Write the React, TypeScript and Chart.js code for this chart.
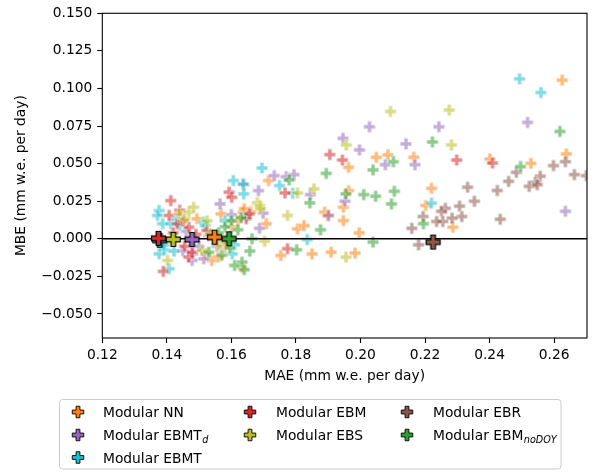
import React, { useEffect, useRef } from 'react';
import { Chart, registerables } from 'chart.js';

Chart.register(...registerables);

// ---------- data ----------
const seriesMain = ['Modular NN', 'Modular EBMT', 'Modular EBMT', 'Modular EBM', 'Modular EBS', 'Modular EBR', 'Modular EBM'];
const seriesSub = ['', 'd', '', '', '', '', 'noDOY'];
const seriesColors = ['#ff7f0e', '#9467bd', '#17becf', '#d62728', '#bcbd22', '#8c564b', '#2ca02c'];

const xTicks = [0.12, 0.14, 0.16, 0.18, 0.2, 0.22, 0.24, 0.26];
const yTicks = [-0.05, -0.025, 0, 0.025, 0.05, 0.075, 0.1, 0.125, 0.15];

const nnX = [0.2625, 0.2638, 0.2528, 0.2401, 0.2165, 0.2085, 0.2049, 0.1963, 0.1963, 0.1947, 0.1947, 0.1996, 0.222, 0.2202, 0.2286, 0.1909, 0.1983, 0.185, 0.1753, 0.1715, 0.1805, 0.1825, 0.1889, 0.1899, 0.1708, 0.1568, 0.1636, 0.1493, 0.1539, 0.1633, 0.16, 0.162, 0.158, 0.152, 0.166, 0.156, 0.164];
const nnY = [0.1055, 0.0564, 0.0502, 0.0531, 0.0542, 0.0558, 0.0542, 0.0475, 0.032, 0.021, 0.0121, 0.004, 0.0336, 0.0221, 0.0077, -0.0089, -0.0095, -0.01, -0.0111, 0.0387, 0.0066, 0.0088, 0.0177, 0.0155, 0.01, 0.0166, 0.0177, 0.0133, -0.0144, -0.0192, 0.008, 0.012, -0.006, -0.01, 0.018, -0.012, 0.02];

const tdX = [0.2635, 0.2518, 0.2243, 0.2028, 0.1946, 0.1997, 0.2141, 0.2077, 0.2169, 0.1952, 0.1901, 0.1845, 0.1733, 0.177, 0.1794, 0.1639, 0.1684, 0.1698, 0.1687, 0.1565, 0.16, 0.1514, 0.1478, 0.146, 0.15, 0.153, 0.145, 0.1555, 0.148];
const tdY = [0.0183, 0.0774, 0.0745, 0.0745, 0.0668, 0.0591, 0.0631, 0.0493, 0.0493, 0.025, 0.0155, 0.0294, 0.042, 0.0413, 0.0427, 0.036, 0.032, 0.017, 0.007, 0.0232, 0.016, -0.0133, -0.0144, 0.005, -0.005, 0.002, -0.008, -0.005, -0.01];

const tX = [0.2493, 0.2559, 0.222, 0.1835, 0.1695, 0.1749, 0.179, 0.1606, 0.1636, 0.1638, 0.1647, 0.1514, 0.1519, 0.1376, 0.1371, 0.1387, 0.1412, 0.144, 0.1376, 0.1392, 0.1422, 0.1407, 0.1603, 0.161, 0.158, 0.139, 0.143];
const tY = [0.1064, 0.0973, 0.0237, -0.0005, 0.0471, 0.0354, 0.0303, 0.0387, 0.0365, 0.0299, 0.015, 0.011, 0.0088, 0.0188, 0.0155, 0.01, 0.01, 0.009, -0.01, -0.0073, -0.0082, -0.0199, -0.01, -0.004, 0.012, -0.004, 0.013];

const ebmX = [0.1905, 0.1944, 0.2298, 0.2409, 0.1766, 0.1593, 0.1601, 0.1646, 0.1656, 0.1412, 0.1407, 0.1432, 0.1468, 0.1524, 0.1774, 0.1468, 0.1478, 0.1389, 0.145, 0.149, 0.1455, 0.142, 0.144];
const ebmY = [0.056, 0.0524, 0.0524, 0.0504, 0.0305, 0.031, 0.0276, 0.0133, 0.0166, 0.0254, 0.0155, 0.01, 0.0077, 0.0055, -0.0066, -0.0122, -0.0089, -0.0217, 0.012, 0.003, -0.005, 0.004, 0.019];

const ebsX = [0.2093, 0.2275, 0.1956, 0.2282, 0.1805, 0.1856, 0.168, 0.1688, 0.169, 0.1774, 0.1703, 0.1955, 0.1438, 0.1468, 0.1483, 0.1509, 0.1402, 0.1535, 0.156, 0.1525, 0.1455, 0.158];
const ebsY = [0.0847, 0.0856, 0.0624, 0.0624, 0.0305, 0.0332, 0.024, 0.022, 0.02, 0.0155, -0.0016, -0.0122, 0.0166, 0.0177, 0.021, -0.0078, -0.0144, 0.003, -0.004, 0.012, 0.013, -0.002];

const ebrX = [0.2598, 0.2635, 0.2663, 0.27, 0.2557, 0.2542, 0.2523, 0.2483, 0.2459, 0.2424, 0.2332, 0.2353, 0.2307, 0.2314, 0.2433, 0.2263, 0.2251, 0.2284, 0.2255, 0.2236, 0.2194, 0.2159, 0.218, 0.2548];
const ebrY = [0.0487, 0.0513, 0.0427, 0.042, 0.0416, 0.0376, 0.0349, 0.0442, 0.0382, 0.0321, 0.0343, 0.025, 0.0217, 0.0148, 0.013, 0.0203, 0.0183, 0.0137, 0.0115, 0.0115, 0.0148, 0.007, -0.004, 0.036];

const ndX = [0.2618, 0.2223, 0.2102, 0.2496, 0.2039, 0.2105, 0.2096, 0.2047, 0.201, 0.1955, 0.2195, 0.2039, 0.1894, 0.1779, 0.1843, 0.1876, 0.1664, 0.1657, 0.1802, 0.1633, 0.161, 0.164, 0.153, 0.158, 0.16, 0.162, 0.156, 0.1595, 0.163, 0.157];
const ndY = [0.0714, 0.0644, 0.0513, 0.048, 0.0458, 0.0316, 0.0232, 0.0283, 0.0294, 0.0299, 0.01, -0.0022, 0.0435, 0.0392, 0.0239, 0.006, 0.0, -0.0082, -0.0073, -0.0155, -0.0177, -0.0206, -0.009, 0.008, 0.012, 0.006, 0.004, -0.006, 0.014, -0.011];

const meanX = [0.1548, 0.1478, 0.1378, 0.1374, 0.142, 0.2225, 0.1593];
const meanY = [0.0011, -0.0005, -0.001, 0.0003, -0.0004, -0.0022, 0.0];

const zeroLineX = [0.12, 0.2702];
const zeroLineY = [0, 0];

const seriesX = [nnX, tdX, tX, ebmX, ebsX, ebrX, ndX];
const seriesY = [nnY, tdY, tY, ebmY, ebsY, ebrY, ndY];

// ---------- helpers ----------
const FONT = 'DejaVu Sans';
const TICK_FS = 13.8;
const TITLE_FS = 13.8;
const LEG_FS = 13.8;

function rgba(hex: string, a: number) {
  const n = parseInt(hex.slice(1), 16);
  return `rgba(${(n >> 16) & 255},${(n >> 8) & 255},${n & 255},${a})`;
}

function plusPath(ctx: CanvasRenderingContext2D, cx: number, cy: number, size: number) {
  const h = size / 2;
  const a = size / 6;
  const pts = [[-a, -h], [a, -h], [a, -a], [h, -a], [h, a], [a, a], [a, h], [-a, h], [-a, a], [-h, a], [-h, -a], [-a, -a]];
  ctx.beginPath();
  pts.forEach(([px, py], i) => (i === 0 ? ctx.moveTo(cx + px, cy + py) : ctx.lineTo(cx + px, cy + py)));
  ctx.closePath();
}

function makeMarker(fill: string, size: number, edge: string, lw: number) {
  const c = document.createElement('canvas');
  const d = Math.ceil(size + lw * 2 + 2);
  c.width = d;
  c.height = d;
  const ctx = c.getContext('2d')!;
  plusPath(ctx, d / 2, d / 2, size);
  ctx.fillStyle = fill;
  ctx.fill();
  if (lw > 0) {
    ctx.lineJoin = 'miter';
    ctx.strokeStyle = edge;
    ctx.lineWidth = lw;
    ctx.stroke();
  }
  return c;
}

const overlayPlugin = {
  id: 'overlay',
  afterDraw(chart: any) {
    const { ctx, chartArea: a } = chart;
    ctx.save();
    ctx.strokeStyle = '#000';
    ctx.lineWidth = 1.1;
    ctx.strokeRect(a.left, a.top, a.right - a.left, a.bottom - a.top);

    // legend frame
    const lx = 59.5, ly = 399.5, lw = 501.5, lh = 69.5, r = 3;
    ctx.beginPath();
    ctx.moveTo(lx + r, ly);
    ctx.lineTo(lx + lw - r, ly);
    ctx.arcTo(lx + lw, ly, lx + lw, ly + r, r);
    ctx.lineTo(lx + lw, ly + lh - r);
    ctx.arcTo(lx + lw, ly + lh, lx + lw - r, ly + lh, r);
    ctx.lineTo(lx + r, ly + lh);
    ctx.arcTo(lx, ly + lh, lx, ly + lh - r, r);
    ctx.lineTo(lx, ly + r);
    ctx.arcTo(lx, ly, lx + r, ly, r);
    ctx.closePath();
    ctx.fillStyle = 'rgba(255,255,255,0.8)';
    ctx.fill();
    ctx.strokeStyle = '#cccccc';
    ctx.lineWidth = 1;
    ctx.stroke();

    const colMarkerX = [78, 250, 407];
    const colTextX = [103, 276, 433];
    const rowY = [412, 435, 457.5];
    const layout = [[0, 0], [0, 1], [0, 2], [1, 0], [1, 1], [2, 0], [2, 1]];
    layout.forEach(([col, row], i) => {
      const mx = colMarkerX[col];
      const my = rowY[row];
      plusPath(ctx, mx, my, 11.5);
      ctx.fillStyle = seriesColors[i];
      ctx.fill();
      ctx.strokeStyle = '#000';
      ctx.lineWidth = 0.9;
      ctx.stroke();
      ctx.fillStyle = '#000';
      ctx.textBaseline = 'alphabetic';
      ctx.textAlign = 'left';
      ctx.font = `${LEG_FS}px "${FONT}"`;
      const base = my + 5;
      ctx.fillText(seriesMain[i], colTextX[col], base);
      if (seriesSub[i]) {
        const w = ctx.measureText(seriesMain[i]).width;
        ctx.font = `italic ${LEG_FS * 0.7}px "${FONT}"`;
        ctx.fillText(seriesSub[i], colTextX[col] + w + 0.5, base + 3);
      }
    });
    ctx.restore();
  },
};

export default function App() {
  const ref = useRef<HTMLCanvasElement | null>(null);
  useEffect(() => {
    if (!ref.current) return;
    const smallImgs = seriesColors.map((c) => makeMarker(rgba(c, 0.55), 11.5, 'rgba(255,255,255,0.55)', 0.9));
    const bigImgs = seriesColors.map((c) => makeMarker(c, 14, '#000', 1.2));

    const datasets: any[] = [];
    seriesX.forEach((xs, i) => {
      datasets.push({
        type: 'scatter',
        label: seriesMain[i] + seriesSub[i],
        data: xs.map((x, j) => ({ x, y: seriesY[i][j] })),
        pointStyle: smallImgs[i],
        pointRadius: 6,
        order: 30 - i,
      });
    });
    datasets.push({
      type: 'line',
      label: 'zero',
      data: zeroLineX.map((x, j) => ({ x, y: zeroLineY[j] })),
      borderColor: '#000',
      borderWidth: 1.6,
      pointRadius: 0,
      fill: false,
      order: 15,
    });
    meanX.forEach((x, i) => {
      datasets.push({
        type: 'scatter',
        label: 'mean ' + seriesMain[i] + seriesSub[i],
        data: [{ x, y: meanY[i] }],
        pointStyle: bigImgs[i],
        pointRadius: 7,
        order: 10 - i,
      });
    });

    const tickFont = { family: FONT, size: TICK_FS };
    const titleFont = { family: FONT, size: TITLE_FS };
    const chart = new Chart(ref.current, {
      type: 'scatter',
      data: { datasets },
      options: {
        animation: false,
        responsive: false,
        devicePixelRatio: 1,
        layout: { padding: { left: 0, top: 12.3, right: 1.7, bottom: 87 } },
        plugins: { legend: { display: false }, tooltip: { enabled: false } },
        scales: {
          x: {
            type: 'linear',
            min: 0.12,
            max: 0.2702,
            afterBuildTicks: (s: any) => {
              s.ticks = xTicks.map((v) => ({ value: v }));
            },
            afterFit: (s: any) => {
              s.height = 47;
            },
            ticks: {
              callback: (v: any) => Number(v).toFixed(2),
              font: tickFont,
              color: '#000',
              padding: 4,
              maxRotation: 0,
              autoSkip: false,
            },
            grid: { drawOnChartArea: false, drawTicks: true, tickLength: 5, tickColor: '#000', tickWidth: 1.1 },
            border: { display: false },
            title: { display: true, text: 'MAE (mm w.e. per day)', font: titleFont, color: '#000', padding: { top: 0, bottom: 0 } },
          },
          y: {
            type: 'linear',
            min: -0.066,
            max: 0.15,
            afterBuildTicks: (s: any) => {
              s.ticks = yTicks.map((v) => ({ value: v }));
            },
            afterFit: (s: any) => {
              s.width = 102.3;
            },
            ticks: {
              callback: (v: any) => {
                const n = Number(v);
                const t = Math.abs(n).toFixed(3);
                return n < -1e-9 ? '\u2212' + t : t;
              },
              font: tickFont,
              color: '#000',
              padding: 5,
              autoSkip: false,
            },
            grid: { drawOnChartArea: false, drawTicks: true, tickLength: 5, tickColor: '#000', tickWidth: 1.1 },
            border: { display: false },
            title: { display: true, text: 'MBE (mm w.e. per day)', font: titleFont, color: '#000', padding: { top: 13.5, bottom: 0 } },
          },
        },
      } as any,
      plugins: [overlayPlugin],
    });
    return () => chart.destroy();
  }, []);

  return (
    <div style={{ position: 'absolute', left: 0, top: 0, width: 595, height: 472, background: '#fff' }}>
      <canvas ref={ref} width={595} height={472} style={{ display: 'block', width: 595, height: 472 }} />
    </div>
  );
}
